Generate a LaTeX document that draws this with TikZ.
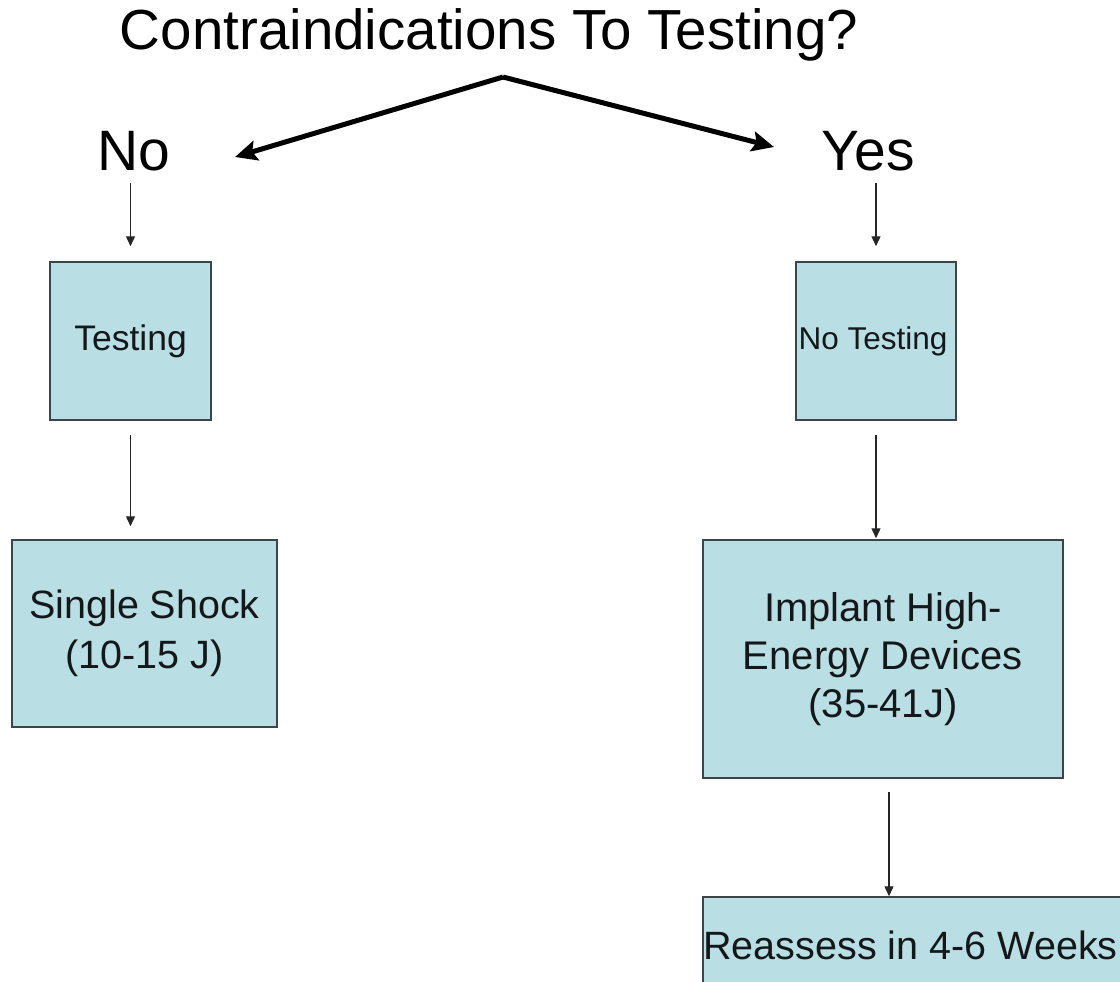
\documentclass[tikz,border=0pt]{standalone}
\usepackage{fontspec}
\setmainfont{Liberation Sans}
\usetikzlibrary{arrows.meta}
\definecolor{boxfill}{RGB}{185,222,227}
\definecolor{boxline}{RGB}{60,70,72}
\definecolor{txt}{RGB}{20,24,26}
\begin{document}
\begin{tikzpicture}[x=1pt,y=-1pt,
  box/.style={draw=boxline, line width=1.5pt, fill=boxfill, inner sep=0pt, align=center, text=txt},
  bigarrow/.style={line width=5pt, -{Stealth[length=22pt,width=20pt,inset=4pt]}},
  smallarrow/.style={line width=1.4pt, draw=black!85, -{Triangle[length=10pt,width=9pt]}},
  head/.style={inner sep=0pt, anchor=base, text=black}
]
\useasboundingbox (0,0) rectangle (1120,982);

% title and branches
\node[head, font=\fontsize{56.5}{60}\selectfont] (title) at (489,50) {Contraindications To Testing?};
\node[head, font=\fontsize{57}{62}\selectfont] (no) at (134,170) {No};
\node[head, font=\fontsize{57}{62}\selectfont] (yes) at (868,170) {Yes};

\coordinate (apex) at (503,77);
\coordinate (ltip) at (235,157);
\coordinate (rtip) at (774,147);
\draw[bigarrow] (apex) -- (ltip);
\draw[bigarrow] (apex) -- (rtip);

% boxes
\node[box, minimum width=161pt, minimum height=158pt, font=\fontsize{35.5}{40}\selectfont] (testing) at (130.5,341) {Testing};
\node[box, minimum width=160pt, minimum height=158pt, font=\fontsize{31.5}{36}\selectfont] (notesting) at (876,341) {No Testing\hspace*{6pt}};
\node[box, minimum width=265pt, minimum height=187pt, font=\fontsize{39.5}{50}\selectfont] (single) at (144.5,633.5) {Single Shock\\(10-15 J)};
\node[box, minimum width=360pt, minimum height=238pt, font=\fontsize{40}{48}\selectfont] (implant) at (883,659) {Implant High-\\Energy Devices\\(35-41J)};
\node[box, minimum width=427pt, minimum height=96pt, font=\fontsize{39.5}{46}\selectfont] (reassess) at (916.5,945) {Reassess in 4-6 Weeks\hspace*{12pt}};

% connectors
\draw[smallarrow, shorten <=12pt, shorten >=15pt] (testing.north |- no.south) -- (testing.north);
\draw[smallarrow, shorten <=12pt, shorten >=15pt] (notesting.north |- yes.south) -- (notesting.north);
\draw[smallarrow, shorten <=14pt, shorten >=13pt] (testing.south) -- (testing.south |- single.north);
\draw[smallarrow, shorten <=14pt, shorten >=1pt] (notesting.south) -- (notesting.south |- implant.north);
\draw[smallarrow, shorten <=13pt] ([xshift=6pt]implant.south) -- ([xshift=6pt]implant.south |- reassess.north);
\end{tikzpicture}
\end{document}
